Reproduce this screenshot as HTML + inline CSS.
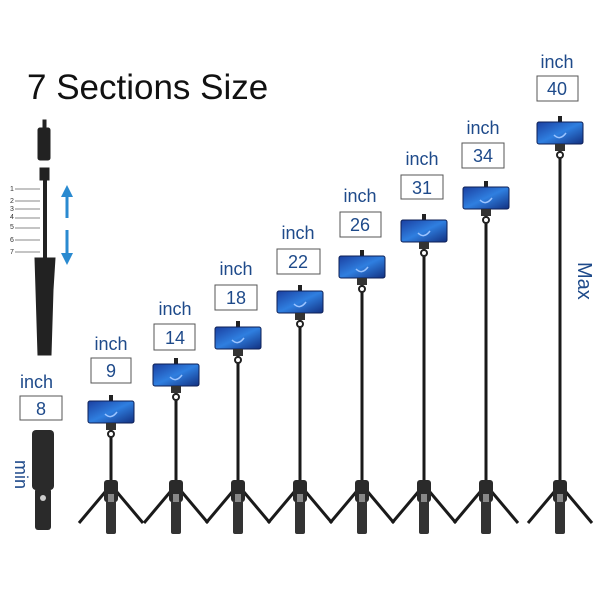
<!DOCTYPE html>
<html><head><meta charset="utf-8"><style>
html,body{margin:0;padding:0;background:#fff;width:600px;height:600px;overflow:hidden}
svg{display:block}
.t{font-family:"Liberation Sans",sans-serif;fill:#1e4a8a}
</style></head><body>
<svg id="s" width="600" height="600" viewBox="0 0 600 600" xmlns="http://www.w3.org/2000/svg">
<defs>
<linearGradient id="ph" x1="0" y1="0" x2="1" y2="1">
<stop offset="0" stop-color="#1a3fa0"/><stop offset="0.5" stop-color="#2f7fe0"/><stop offset="1" stop-color="#123080"/>
</linearGradient>
</defs>
<text x="27" y="99" font-family="Liberation Sans,sans-serif" font-size="35" fill="#111">7 Sections Size</text>
<g stroke="#222" fill="#222">
<rect x="38" y="128" width="12" height="32" rx="2"/>
<rect x="43" y="120" width="3" height="10"/>
<rect x="40" y="168" width="9" height="12"/>
<line x1="45" y1="180" x2="45" y2="258" stroke-width="4"/>
<path d="M35 258 L55 258 L53 290 L51 355 L38 355 L36 290 Z"/>
</g>
<g font-family="Liberation Sans,sans-serif" font-size="7" fill="#333">
<text x="10" y="191">1</text><text x="10" y="203">2</text><text x="10" y="211">3</text><text x="10" y="219">4</text><text x="10" y="229">5</text><text x="10" y="242">6</text><text x="10" y="254">7</text>
</g>
<g stroke="#888" stroke-width="1">
<line x1="15" y1="189" x2="40" y2="189"/><line x1="15" y1="201" x2="40" y2="201"/><line x1="15" y1="209" x2="40" y2="209"/><line x1="15" y1="218" x2="40" y2="218"/><line x1="15" y1="228" x2="40" y2="228"/><line x1="15" y1="240" x2="40" y2="240"/><line x1="15" y1="252" x2="40" y2="252"/>
</g>
<g fill="#2a8ad0" stroke="#2a8ad0" stroke-width="3">
<line x1="67" y1="195" x2="67" y2="218"/><path d="M61 197 L67 185 L73 197 Z" stroke="none"/>
<line x1="67" y1="230" x2="67" y2="255"/><path d="M61 253 L67 265 L73 253 Z" stroke="none"/>
</g>
<g fill="#2a2a2a"><rect x="32" y="430" width="22" height="60" rx="4"/><rect x="35" y="488" width="16" height="42" rx="3"/></g>
<circle cx="43" cy="498" r="3" fill="#ccc"/>
<text class="t" x="20" y="388" font-size="18">inch</text>
<rect x="20" y="396" width="42" height="24" fill="#fff" stroke="#555"/>
<text class="t" x="41" y="415" font-size="18" text-anchor="middle">8</text>
<text class="t" font-size="18" transform="translate(15,460) rotate(90)">min</text>
<text class="t" font-size="20" transform="translate(578,262) rotate(90)">Max</text>
<g id="stands"></g>
<g id="labels">
<text class="t" x="111" y="350" font-size="18" text-anchor="middle">inch</text><rect x="91" y="358" width="40" height="25" fill="#fff" stroke="#555"/><text class="t" x="111" y="377" font-size="18" text-anchor="middle">9</text>
<text class="t" x="175" y="315" font-size="18" text-anchor="middle">inch</text><rect x="154" y="324" width="41" height="26" fill="#fff" stroke="#555"/><text class="t" x="175" y="344" font-size="18" text-anchor="middle">14</text>
<text class="t" x="236" y="275" font-size="18" text-anchor="middle">inch</text><rect x="215" y="285" width="42" height="25" fill="#fff" stroke="#555"/><text class="t" x="236" y="304" font-size="18" text-anchor="middle">18</text>
<text class="t" x="298" y="239" font-size="18" text-anchor="middle">inch</text><rect x="277" y="249" width="43" height="25" fill="#fff" stroke="#555"/><text class="t" x="298" y="268" font-size="18" text-anchor="middle">22</text>
<text class="t" x="360" y="202" font-size="18" text-anchor="middle">inch</text><rect x="340" y="212" width="41" height="25" fill="#fff" stroke="#555"/><text class="t" x="360" y="231" font-size="18" text-anchor="middle">26</text>
<text class="t" x="422" y="165" font-size="18" text-anchor="middle">inch</text><rect x="401" y="175" width="42" height="24" fill="#fff" stroke="#555"/><text class="t" x="422" y="194" font-size="18" text-anchor="middle">31</text>
<text class="t" x="483" y="134" font-size="18" text-anchor="middle">inch</text><rect x="462" y="143" width="42" height="25" fill="#fff" stroke="#555"/><text class="t" x="483" y="162" font-size="18" text-anchor="middle">34</text>
<text class="t" x="557" y="68" font-size="18" text-anchor="middle">inch</text><rect x="537" y="76" width="41" height="25" fill="#fff" stroke="#555"/><text class="t" x="557" y="95" font-size="18" text-anchor="middle">40</text>
</g>
</svg>
<script>
var d=[[111,401],[176,364],[238,327],[300,291],[362,256],[424,220],[486,187],[560,122]];
var h='';
d.forEach(function(p){var x=p[0],y=p[1];
h+='<line x1="'+x+'" y1="'+(y+22)+'" x2="'+x+'" y2="495" stroke="#1a1a1a" stroke-width="3"/>';
h+='<rect x="'+(x-2)+'" y="'+(y-6)+'" width="4" height="7" fill="#222"/>';
h+='<rect x="'+(x-23)+'" y="'+y+'" width="46" height="22" rx="2" fill="url(#ph)" stroke="#0d1f55"/>';
h+='<path d="M'+(x-6)+' '+(y+13)+' q6 6 12 -2" stroke="#9cc4ff" fill="none" stroke-width="1.5"/>';
h+='<rect x="'+(x-5)+'" y="'+(y+22)+'" width="10" height="7" fill="#333"/>';
h+='<circle cx="'+x+'" cy="'+(y+33)+'" r="3" fill="#fff" stroke="#222" stroke-width="2"/>';
h+='<line x1="'+x+'" y1="485" x2="'+(x-32)+'" y2="523" stroke="#1a1a1a" stroke-width="3"/>';
h+='<line x1="'+x+'" y1="485" x2="'+(x+32)+'" y2="523" stroke="#1a1a1a" stroke-width="3"/>';
h+='<rect x="'+(x-7)+'" y="480" width="14" height="22" rx="3" fill="#2a2a2a"/>';
h+='<rect x="'+(x-5)+'" y="500" width="10" height="34" rx="2" fill="#333"/>';
h+='<rect x="'+(x-3)+'" y="494" width="6" height="8" fill="#888"/>';
});
document.getElementById('stands').innerHTML=h;
</script>
</body></html>
